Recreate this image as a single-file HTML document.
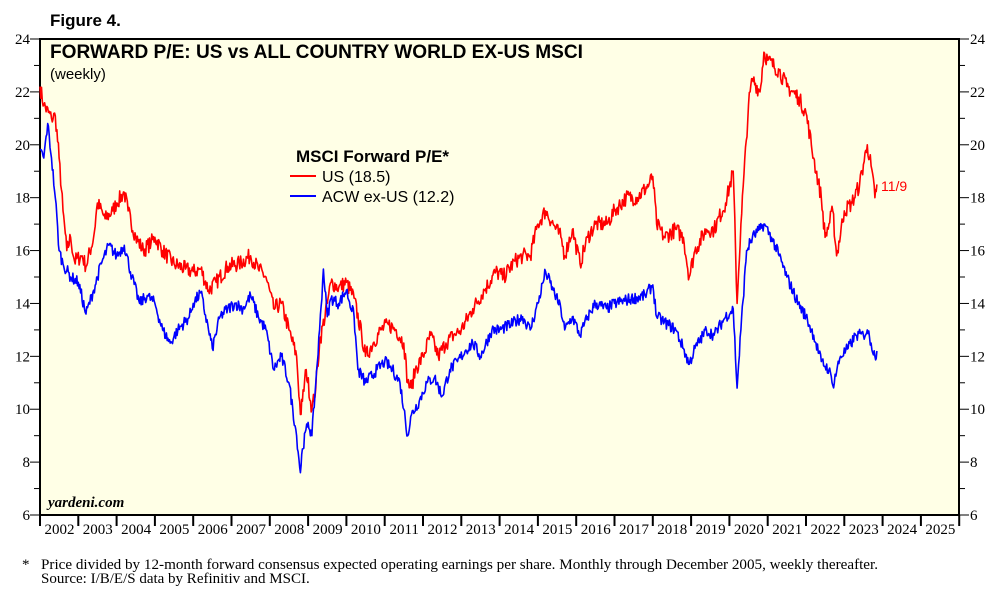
<!DOCTYPE html>
<html><head><meta charset="utf-8"><style>
body{margin:0;background:#fff;width:1000px;height:598px;overflow:hidden}
svg{display:block}
</style></head><body>
<svg id="s" width="1000" height="598" xmlns="http://www.w3.org/2000/svg" font-family="Liberation Sans, sans-serif">
<text x="50" y="26" font-size="17" font-weight="bold">Figure 4.</text>
<rect x="40" y="39" width="919" height="476" fill="#ffffe6" stroke="#000" stroke-width="2"/>
<g id="ax"></g>
<path id="us" fill="none" stroke="#ff0000" stroke-width="1.6" stroke-linejoin="round"/>
<path id="ac" fill="none" stroke="#0000ff" stroke-width="1.6" stroke-linejoin="round"/>
<text x="50" y="58" font-size="19" font-weight="bold" textLength="533" lengthAdjust="spacingAndGlyphs">FORWARD P/E: US vs ALL COUNTRY WORLD EX-US MSCI</text>
<text x="50" y="79" font-size="15">(weekly)</text>
<text x="296" y="162" font-size="17" font-weight="bold">MSCI Forward P/E*</text>
<line x1="290" y1="176" x2="316" y2="176" stroke="#ff0000" stroke-width="2"/>
<text x="322" y="182" font-size="16" fill="#000">US (18.5)</text>
<line x1="290" y1="196" x2="316" y2="196" stroke="#0000ff" stroke-width="2"/>
<text x="322" y="202" font-size="16" fill="#000">ACW ex-US (12.2)</text>
<text x="881" y="191" font-size="14" fill="#ff0000">11/9</text>
<text x="48" y="507" font-size="15" font-weight="bold" font-style="italic" font-family="Liberation Serif, serif">yardeni.com</text>
<text x="22" y="569" font-size="15" font-family="Liberation Serif, serif">*</text>
<text x="41" y="569" font-size="15" font-family="Liberation Serif, serif" textLength="837" lengthAdjust="spacingAndGlyphs">Price divided by 12-month forward consensus expected operating earnings per share. Monthly through December 2005, weekly thereafter.</text>
<text x="41" y="583" font-size="15" font-family="Liberation Serif, serif">Source: I/B/E/S data by Refinitiv and MSCI.</text>
</svg>
<script>
var X=function(t){return 40+(t-2002)*38.3},Y=function(v){return 515-(v-6)*26.444};
var ax='';
for(var v=6;v<=24;v++){var y=Y(v),l=(v%2==0)?10:6;
ax+='<line x1="'+(40-l)+'" y1="'+y+'" x2="40" y2="'+y+'" stroke="#000"/><line x1="959" y1="'+y+'" x2="'+(959+l)+'" y2="'+y+'" stroke="#000"/>';
if(v%2==0){ax+='<text x="30" y="'+(y+5)+'" font-size="15" text-anchor="end" font-family="Liberation Serif, serif">'+v+'</text><text x="970" y="'+(y+5)+'" font-size="15" font-family="Liberation Serif, serif">'+v+'</text>';}}
for(var yr=2002;yr<=2026;yr++){var x=X(yr);ax+='<line x1="'+x+'" y1="515" x2="'+x+'" y2="526" stroke="#000" stroke-width="2"/>';
if(yr<2026)ax+='<text x="'+(x+19.5)+'" y="534" font-size="15" text-anchor="middle" font-family="Liberation Serif, serif">'+yr+'</text>';}
document.getElementById('ax').innerHTML=ax;
var us=[2002,22.2,2002.1,21.5,2002.3,21.0,2002.4,21.1,2002.5,19.5,2002.6,17.5,2002.7,16.0,2002.8,16.5,2002.9,15.6,2003.1,15.8,2003.2,15.4,2003.4,16.5,2003.5,17.8,2003.7,17.2,2003.9,17.5,2004.0,17.8,2004.2,18.2,2004.3,17.5,2004.5,16.5,2004.7,16.0,2004.9,16.3,2005.0,16.5,2005.2,16.0,2005.5,15.5,2005.8,15.3,2006.0,15.2,2006.2,15.3,2006.4,14.5,2006.6,14.8,2006.9,15.4,2007.2,15.5,2007.5,15.8,2007.7,15.3,2007.9,15.0,2008.1,13.8,2008.3,14.0,2008.5,13.0,2008.7,12.0,2008.8,9.8,2008.85,10.3,2008.95,11.5,2009.1,10.0,2009.2,10.8,2009.3,12.5,2009.5,14.0,2009.6,14.8,2009.8,14.6,2010.0,14.8,2010.2,14.2,2010.4,12.8,2010.5,12.0,2010.7,12.5,2010.9,13.0,2011.1,13.2,2011.3,13.0,2011.5,12.5,2011.6,11.0,2011.7,10.8,2011.8,11.5,2012.0,12.0,2012.2,12.8,2012.4,12.0,2012.6,12.5,2012.8,12.8,2013.0,13.0,2013.3,13.8,2013.6,14.5,2013.9,15.2,2014.1,15.0,2014.4,15.6,2014.6,15.8,2014.8,15.8,2015.0,17.0,2015.2,17.5,2015.4,17.0,2015.6,16.5,2015.7,15.8,2015.9,16.8,2016.1,15.5,2016.3,16.5,2016.5,17.0,2016.8,17.0,2017.0,17.5,2017.3,18.0,2017.6,18.0,2017.9,18.5,2018.0,18.8,2018.1,17.0,2018.3,16.5,2018.6,16.8,2018.8,16.5,2018.95,15.0,2019.1,16.0,2019.4,16.8,2019.6,16.8,2019.9,17.8,2020.1,19.0,2020.2,14.0,2020.3,17.0,2020.5,21.5,2020.6,22.5,2020.8,22.0,2020.9,23.5,2021.0,23.2,2021.3,22.8,2021.5,22.2,2021.8,21.8,2022.0,21.2,2022.2,19.5,2022.4,18.0,2022.5,16.5,2022.7,17.5,2022.8,15.8,2023.0,17.5,2023.2,17.8,2023.4,18.5,2023.6,20.0,2023.7,19.2,2023.8,18.0,2023.85,18.5];
var ac=[2002,19.8,2002.1,19.5,2002.2,20.8,2002.3,19.5,2002.4,18.0,2002.5,16.0,2002.6,15.5,2002.8,15.0,2003.0,14.8,2003.2,13.6,2003.4,14.5,2003.6,15.5,2003.8,16.2,2004.0,15.8,2004.2,16.2,2004.4,15.0,2004.6,14.0,2004.8,14.3,2005.0,14.0,2005.2,13.0,2005.4,12.5,2005.6,13.0,2005.9,13.5,2006.0,14.0,2006.2,14.4,2006.4,13.0,2006.5,12.3,2006.7,13.5,2006.9,13.8,2007.1,14.0,2007.3,13.8,2007.5,14.3,2007.7,13.5,2007.9,13.0,2008.1,11.5,2008.3,12.0,2008.5,11.0,2008.7,9.0,2008.8,7.6,2008.85,8.5,2009.0,9.5,2009.1,9.0,2009.2,11.0,2009.3,13.0,2009.4,15.3,2009.5,13.5,2009.6,14.2,2009.8,14.0,2010.0,14.5,2010.2,13.5,2010.3,11.5,2010.5,11.0,2010.8,11.5,2011.0,11.8,2011.2,11.5,2011.4,11.0,2011.5,10.0,2011.6,9.0,2011.7,9.8,2011.9,10.3,2012.1,11.0,2012.3,11.2,2012.5,10.5,2012.7,11.5,2012.9,11.8,2013.1,12.2,2013.3,12.5,2013.5,12.0,2013.8,13.0,2014.0,13.0,2014.3,13.2,2014.6,13.5,2014.8,13.0,2015.0,14.0,2015.2,15.2,2015.4,14.5,2015.6,13.8,2015.7,13.0,2015.9,13.5,2016.1,12.8,2016.3,13.5,2016.5,14.0,2016.8,13.8,2017.0,14.0,2017.5,14.2,2017.8,14.3,2018.0,14.7,2018.1,13.5,2018.3,13.3,2018.6,13.0,2018.8,12.3,2018.95,11.7,2019.1,12.3,2019.4,13.0,2019.6,12.8,2019.9,13.5,2020.1,13.8,2020.2,10.8,2020.3,13.0,2020.45,16.0,2020.6,16.5,2020.8,16.8,2020.9,17.0,2021.1,16.5,2021.3,15.8,2021.5,15.0,2021.8,14.0,2022.0,13.5,2022.2,12.8,2022.4,11.8,2022.6,11.5,2022.7,10.9,2022.9,12.0,2023.1,12.3,2023.3,12.8,2023.5,12.8,2023.6,13.0,2023.7,12.5,2023.8,12.0,2023.85,12.2];
var seed=7;function rnd(){seed=(seed*16807)%2147483647;return seed/2147483647-0.5;}
function path(a,amp){var d='';for(var i=0;i<a.length-2;i+=2){var t0=a[i],v0=a[i+1],t1=a[i+2],v1=a[i+3];var n=Math.max(1,Math.round((t1-t0)*52));
for(var k=0;k<n;k++){var f=k/n,t=t0+(t1-t0)*f,v=v0+(v1-v0)*f+(k?rnd()*amp:0);d+=(d?'L':'M')+X(t).toFixed(1)+' '+Y(v).toFixed(1);}}
d+='L'+X(a[a.length-2]).toFixed(1)+' '+Y(a[a.length-1]).toFixed(1);return d;}
document.getElementById('us').setAttribute('d',path(us,0.6));
document.getElementById('ac').setAttribute('d',path(ac,0.45));
</script>
</body></html>
